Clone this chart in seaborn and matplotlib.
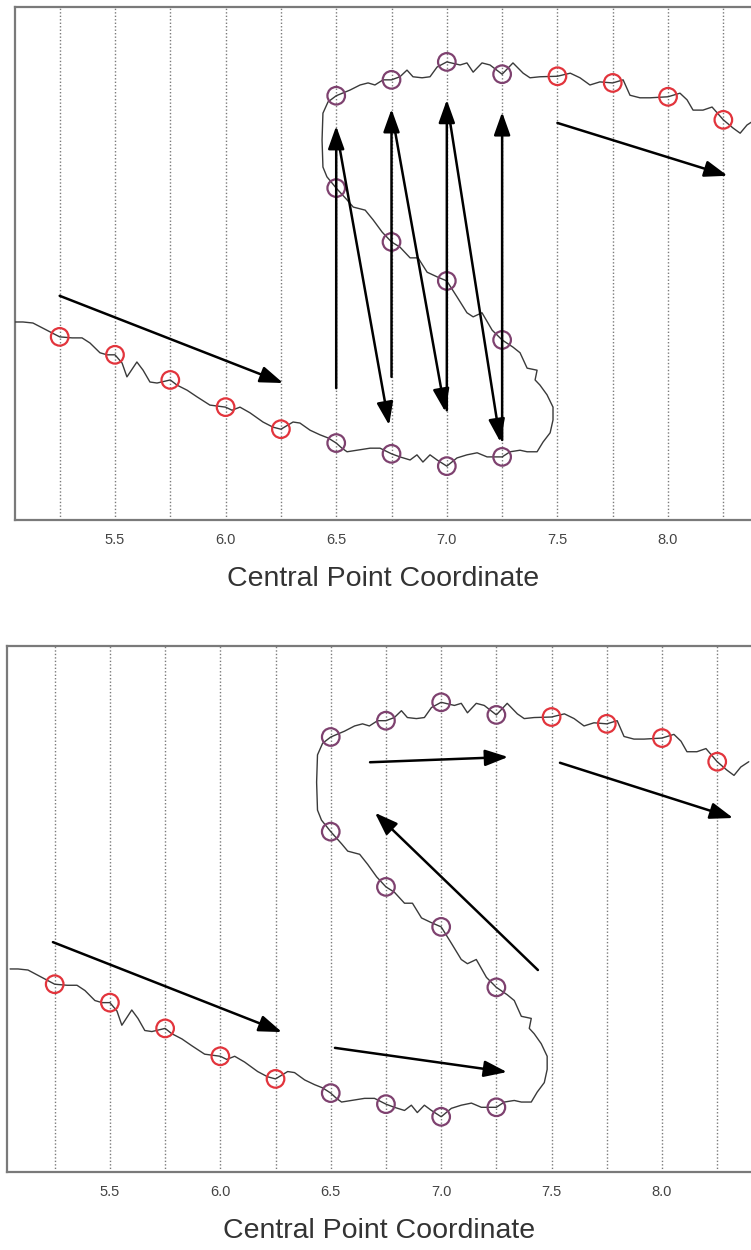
import numpy as np
import pandas as pd
import matplotlib
matplotlib.use("Agg")
import matplotlib.pyplot as plt
import seaborn as sns

# traced hysteresis curve (x = central point coordinate, y = response, arbitrary units 0-100)
curve_x = [5.048, 5.084, 5.129, 5.174, 5.215, 5.25, 5.306, 5.351, 5.387, 5.432,
           5.464, 5.5, 5.532, 5.554, 5.599, 5.627, 5.658, 5.690, 5.75, 5.780,
           5.826, 5.871, 5.929, 6.0, 6.029, 6.065, 6.110, 6.169, 6.214, 6.25,
           6.305, 6.336, 6.382, 6.427, 6.463, 6.5, 6.526, 6.549, 6.594, 6.653,
           6.698, 6.75, 6.788, 6.834, 6.865, 6.892, 6.924, 6.956, 7.0, 7.046,
           7.091, 7.137, 7.182, 7.25, 7.286, 7.331, 7.363, 7.408, 7.435, 7.467,
           7.480, 7.480, 7.453, 7.421, 7.399, 7.408, 7.363, 7.331, 7.299, 7.25,
           7.205, 7.159, 7.119, 7.091, 7.046, 7.0, 6.956, 6.911, 6.870, 6.834,
           6.788, 6.75, 6.708, 6.667, 6.631, 6.577, 6.549, 6.5, 6.458, 6.440,
           6.436, 6.440, 6.463, 6.5, 6.562, 6.608, 6.644, 6.675, 6.712, 6.75,
           6.788, 6.820, 6.847, 6.888, 6.924, 6.956, 7.0, 7.060, 7.091, 7.119,
           7.159, 7.195, 7.25, 7.299, 7.345, 7.376, 7.421, 7.5, 7.558, 7.602,
           7.647, 7.692, 7.75, 7.797, 7.828, 7.873, 7.919, 8.0, 8.054, 8.086,
           8.113, 8.158, 8.199, 8.25, 8.294, 8.326, 8.357, 8.393]
curve_y = [38.6, 38.6, 38.4, 37.4, 36.5, 35.7, 35.5, 35.5, 34.5, 32.6,
           32.2, 32.2, 30.6, 27.9, 30.8, 29.2, 26.9, 26.7, 27.3, 26.3,
           25.3, 24.0, 22.4, 22.0, 21.4, 22.0, 20.9, 19.1, 18.1, 17.7,
           19.1, 18.9, 17.5, 16.6, 16.0, 15.0, 14.0, 13.3, 13.6, 14.0,
           14.0, 12.9, 12.3, 11.7, 12.7, 11.3, 12.7, 11.7, 10.5, 12.1,
           12.7, 13.1, 12.3, 12.3, 13.3, 13.6, 13.3, 13.3, 15.2, 17.0,
           19.5, 22.0, 24.4, 26.3, 27.3, 29.2, 29.6, 32.6, 33.7, 35.1,
           37.0, 40.4, 39.6, 40.4, 43.5, 46.6, 47.4, 48.3, 51.1, 51.1,
           53.2, 54.2, 56.1, 58.5, 60.4, 61.0, 62.4, 64.7, 66.9, 68.8,
           74.1, 79.3, 81.5, 82.7, 83.8, 84.8, 85.2, 84.8, 85.8, 85.8,
           86.4, 87.7, 86.4, 86.2, 86.4, 88.3, 89.3, 88.7, 89.1, 87.3,
           89.1, 88.7, 86.9, 89.1, 87.1, 86.2, 86.4, 86.5, 87.1, 86.2,
           84.8, 85.4, 85.2, 85.8, 82.8, 82.3, 82.3, 82.5, 83.2, 81.9,
           79.9, 79.9, 80.5, 78.0, 76.4, 75.4, 77.0, 78.0]

# sampled states (circles)
red_x = [5.25, 5.5, 5.75, 6.0, 6.25, 7.5, 7.75, 8.0, 8.25]
red_y = [35.7, 32.2, 27.3, 22.0, 17.7, 86.5, 85.2, 82.5, 78.0]
purple_x = [6.5, 6.75, 7.0, 7.25, 6.5, 6.75, 7.0, 7.25, 6.5, 6.75, 7.0, 7.25]
purple_y = [15.0, 12.9, 10.5, 12.3, 64.7, 54.2, 46.6, 35.1, 82.7, 85.8, 89.3, 86.9]

# arrows (x0, y0, x1, y1)
arrows_top = [
    (5.25, 43.7, 6.26, 26.7),
    (6.5, 25.7, 6.5, 76.8),
    (6.75, 27.9, 6.75, 80.1),
    (7.0, 21.4, 7.0, 81.9),
    (7.25, 15.6, 7.25, 79.5),
    (6.509, 74.1, 6.739, 18.5),
    (6.761, 77.0, 6.993, 21.1),
    (7.010, 78.9, 7.242, 15.2),
    (7.5, 77.4, 8.269, 67.1),
]
arrows_bottom = [
    (5.242, 43.7, 6.279, 26.6),
    (6.519, 23.6, 7.298, 19.0),
    (7.438, 38.4, 6.700, 68.3),
    (6.678, 77.9, 7.303, 78.9),
    (7.538, 77.8, 8.322, 67.3),
]

grid_x = [5.25, 5.5, 5.75, 6.0, 6.25, 6.5, 6.75, 7.0, 7.25, 7.5, 7.75, 8.0, 8.25]
tick_x = [5.5, 6.0, 6.5, 7.0, 7.5, 8.0]
tick_labels = ["5.5", "6.0", "6.5", "7.0", "7.5", "8.0"]
xlabel = "Central Point Coordinate"

sns.set_style("white")
plt.rcParams["font.family"] = ["Liberation Sans", "DejaVu Sans"]

curve_df = pd.DataFrame({"x": curve_x, "y": curve_y})


def draw_panel(ax, arrows, xlim):
    sns.lineplot(data=curve_df, x="x", y="y", sort=False, estimator=None,
                 color="#3a3a3a", linewidth=1.0, ax=ax, zorder=3)
    sns.scatterplot(x=red_x, y=red_y, s=160, facecolors="none", edgecolor="#e2343c",
                    linewidth=1.6, ax=ax, zorder=4)
    sns.scatterplot(x=purple_x, y=purple_y, s=160, facecolors="none", edgecolor="#7e416f",
                    linewidth=1.6, ax=ax, zorder=4)
    for x0, y0, x1, y1 in arrows:
        ax.annotate("", xy=(x1, y1), xytext=(x0, y0),
                    arrowprops=dict(arrowstyle="-|>,head_length=0.7,head_width=0.25",
                                    color="black", lw=1.8, mutation_scale=20,
                                    shrinkA=0, shrinkB=0), zorder=5)
    for gx in grid_x:
        ax.axvline(gx, color="#7a7a7a", linestyle=(0, (1, 1.5)), linewidth=1.0, zorder=1)
    ax.set_xlim(*xlim)
    ax.set_ylim(0, 100)
    ax.set_xticks(tick_x)
    ax.set_xticklabels(tick_labels)
    ax.set_yticks([])
    ax.grid(False)
    ax.tick_params(axis="x", which="both", length=0, pad=9, labelsize=10.5, labelcolor="#444444")
    ax.set_xlabel(xlabel, fontsize=20.5, color="#333333", labelpad=14)
    ax.set_ylabel("")
    for side in ["left", "top", "bottom"]:
        ax.spines[side].set_color("#7a7a7a")
        ax.spines[side].set_linewidth(1.6)
    ax.spines["right"].set_visible(False)


fig = plt.figure(figsize=(7.51, 12.5), dpi=100)
ax1 = fig.add_axes([15 / 751, 730 / 1250, 736 / 751, 513 / 1250])
ax2 = fig.add_axes([7 / 751, 78 / 1250, 744 / 751, 526 / 1250])

draw_panel(ax1, arrows_top, (5.048, 8.375))
draw_panel(ax2, arrows_bottom, (5.034, 8.403))

fig.savefig("out.png", dpi=100)
